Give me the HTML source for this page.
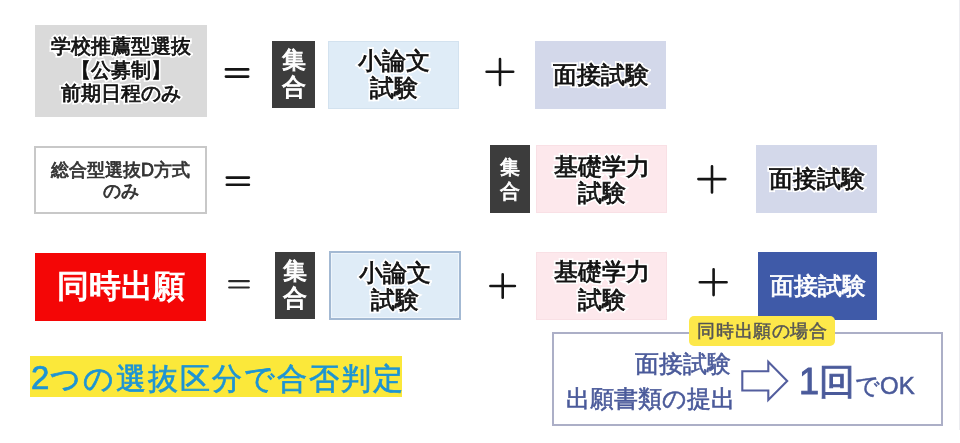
<!DOCTYPE html>
<html lang="ja">
<head>
<meta charset="utf-8">
<style>
html,body{margin:0;padding:0;background:#fff;}
body{will-change:transform;width:960px;height:443px;position:relative;overflow:hidden;font-family:"Liberation Sans",sans-serif;color:#111;}
.b{position:absolute;box-sizing:border-box;display:flex;flex-direction:column;align-items:center;justify-content:center;text-align:center;white-space:nowrap;}
.t{position:absolute;white-space:nowrap;line-height:1;}
.hw{position:relative;text-align:center;}
.hw .h{position:absolute;left:0;top:0;right:0;color:#fff;-webkit-text-stroke:4px #fff;filter:blur(0.5px);}
.hw .x{position:relative;-webkit-text-stroke:0.8px currentColor;}
.m{-webkit-text-stroke:0.8px currentColor;}
.gray{background:#dadada;}
.dark{background:#3c3c3c;color:#fff;-webkit-text-stroke:1px #fff;}
.lb{background:#dfecf7;box-shadow:inset 0 0 0 1px #d3e2ef;}
.pk{background:#fde8ec;box-shadow:inset 0 0 0 1px #f9e0e5;}
.lav{background:#d3d8ea;}
</style>
</head>
<body>
<!-- Row 1 -->
<div class="b gray" style="left:35px;top:25px;width:172px;height:92px;padding-bottom:1px;font-size:20px;line-height:23.5px;"><div class="hw" style=""><span class="h">学校推薦型選抜<br>【公募制】<br>前期日程のみ</span><span class="x">学校推薦型選抜<br>【公募制】<br>前期日程のみ</span></div></div>
<div class="b dark" style="left:272px;top:41px;width:43px;height:67px;padding-bottom:3px;font-size:24px;line-height:27px;">集<br>合</div>
<div class="b lb" style="left:328px;top:41px;width:131px;height:68px;padding-bottom:2px;font-size:24px;line-height:27px;"><div class="hw" style=""><span class="h">小論文<br>試験</span><span class="x">小論文<br>試験</span></div></div>
<div class="b lav" style="left:535px;top:41px;width:131px;height:68px;font-size:24px;"><div class="hw" style=""><span class="h">面接試験</span><span class="x">面接試験</span></div></div>
<!-- Row 2 -->
<div class="b " style="left:34px;top:146px;width:173px;height:68px;padding-top:2px;border:2px solid #c8c8c8;font-size:18px;line-height:21px;color:#333;"><div class="hw" style=""><span class="h">総合型選抜D方式<br>のみ</span><span class="x">総合型選抜D方式<br>のみ</span></div></div>
<div class="b dark" style="left:490px;top:145px;width:40px;height:68px;font-size:20px;line-height:24px;-webkit-text-stroke:0.8px #fff;">集<br>合</div>
<div class="b pk" style="left:536px;top:145px;width:131px;height:68px;padding-top:2px;font-size:24px;line-height:26px;"><div class="hw" style=""><span class="h">基礎学力<br>試験</span><span class="x">基礎学力<br>試験</span></div></div>
<div class="b lav" style="left:756px;top:145px;width:121px;height:68px;font-size:24px;"><div class="hw" style=""><span class="h">面接試験</span><span class="x">面接試験</span></div></div>
<!-- Row 3 -->
<div class="b" style="left:35px;top:253px;width:171px;height:68px;background:#f40606;color:#fff;font-size:32px;-webkit-text-stroke:1.2px #fff;">同時出願</div>
<div class="b dark" style="left:275px;top:252px;width:40px;height:67px;padding-bottom:3px;font-size:24px;line-height:27px;">集<br>合</div>
<div class="b lb" style="left:329px;top:251px;width:132px;height:69px;border:2px solid #a3b9d3;box-shadow:inset 0 0 0 1px #eef5fb;font-size:24px;line-height:27px;"><div class="hw" style=""><span class="h">小論文<br>試験</span><span class="x">小論文<br>試験</span></div></div>
<div class="b pk" style="left:536px;top:252px;width:131px;height:68px;font-size:24px;line-height:28px;"><div class="hw" style=""><span class="h">基礎学力<br>試験</span><span class="x">基礎学力<br>試験</span></div></div>
<div class="b m" style="left:758px;top:252px;width:119px;height:68px;background:#3f5aa8;color:#fff;font-size:24px;">面接試験</div>
<svg style="position:absolute;left:0;top:0" width="960" height="443"><g stroke="#151515" stroke-width="2.6" stroke-linecap="round" fill="none">
<path d="M225.9 69.4H248.2M225.9 76.6H248.2"/>
<path d="M226.8 177.6H248.9M226.8 184.8H248.9"/>
<path d="M229.2 281.2H248.8M229.2 287.5H248.8" stroke="#2a2a2a" stroke-width="2.2"/>
<path d="M486.6 71.8H513.2M500 59V85"/>
<path d="M698.4 179.1H725.3M712 166.2V192.4"/>
<path d="M490.4 286H514.9M502.7 274.2V297.8"/>
<path d="M699.8 282.3H726.6M713.6 269.3V295.1"/>
</g></svg>
<!-- Bottom -->
<div style="position:absolute;left:30px;top:356px;width:372px;height:41px;background:#fbe83a;"></div>
<div class="t m" style="left:31px;top:361px;color:#1d94d4;font-size:30px;letter-spacing:2px;-webkit-text-stroke:0.7px #1d94d4;"><span style="font-size:33px;letter-spacing:1px;">2</span>つの選抜区分で合否判定</div>
<div style="position:absolute;left:552px;top:332px;width:391px;height:94px;box-sizing:border-box;border:2px solid #acafc7;"></div>
<div class="b" style="left:689px;top:316px;width:146px;height:30px;background:#fde84a;border-radius:5px;font-size:18px;letter-spacing:0.6px;padding-left:1px;-webkit-text-stroke:0.5px #555;color:#555;">同時出願の場合</div>
<div class="t" style="right:229px;top:352px;font-size:24px;color:#4a5a9a;-webkit-text-stroke:0.6px #4a5a9a;">面接試験</div>
<div class="t" style="right:225px;top:387px;font-size:24px;color:#4a5a9a;-webkit-text-stroke:0.6px #4a5a9a;">出願書類の提出</div>
<svg style="position:absolute;left:0;top:0" width="960" height="443"><path d="M742.3 371.3 H768.3 V361.8 L787.2 380.9 L768.3 400 V390.5 H742.3 Z" fill="none" stroke="#535e9e" stroke-width="2.1" stroke-linejoin="miter"/></svg>
<div class="t" style="left:799px;top:364px;font-size:36px;color:#4a5a9a;-webkit-text-stroke:1px #4a5a9a;">1回<span style="font-size:24px;-webkit-text-stroke:0.5px #4a5a9a;">でOK</span></div>
<div style="position:absolute;left:959px;top:0;width:1px;height:430px;background:#ececf0;"></div>
</body>
</html>
